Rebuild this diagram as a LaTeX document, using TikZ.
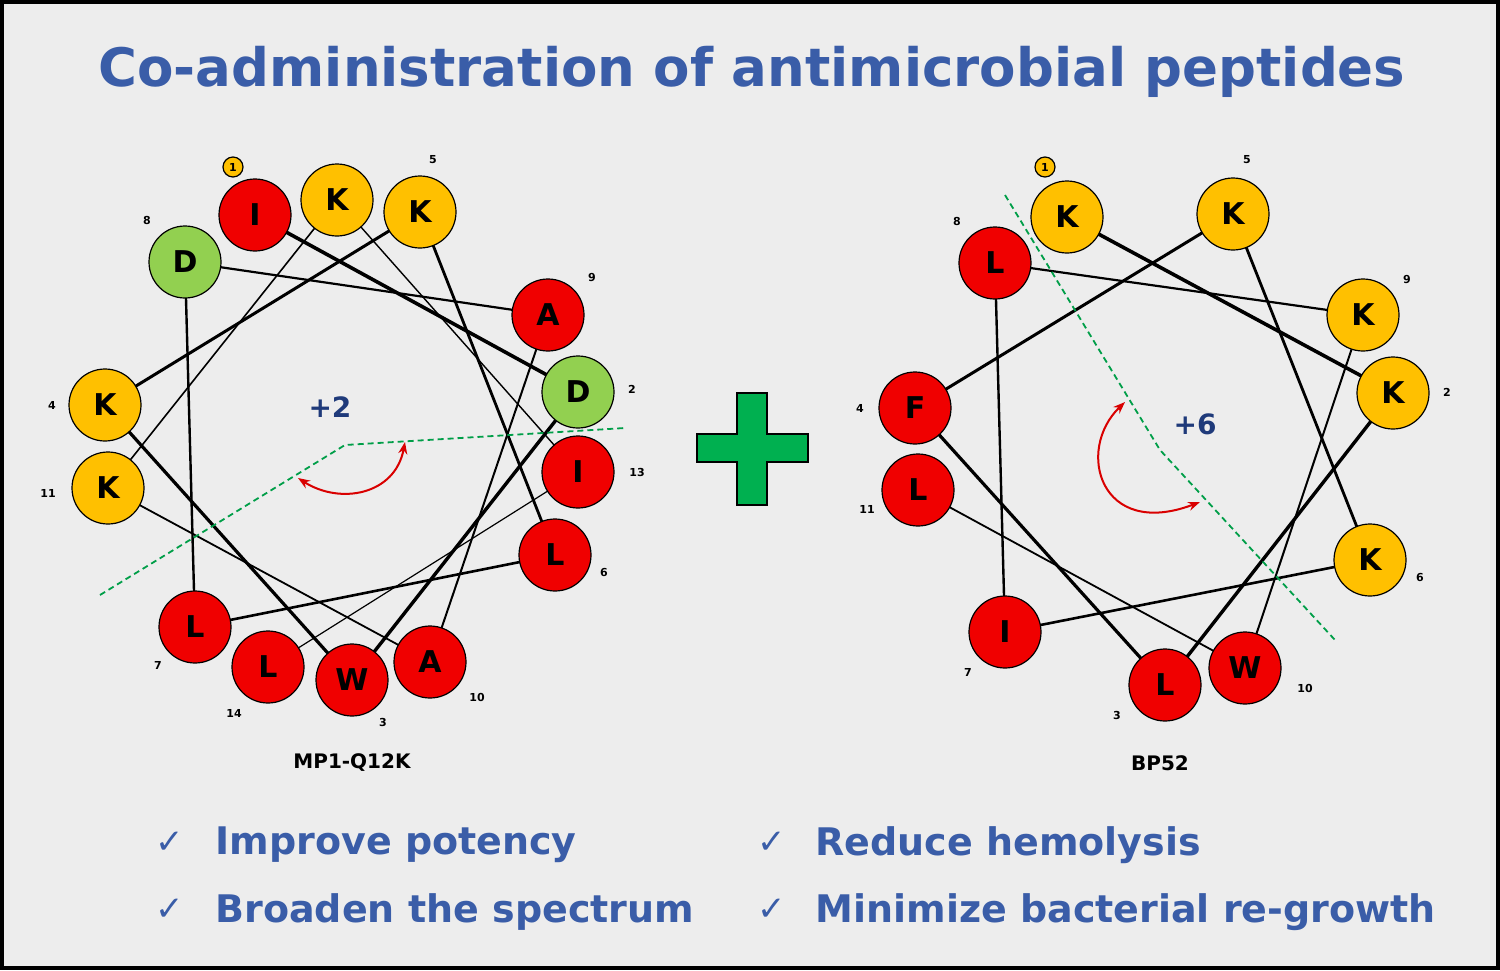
\documentclass[tikz,border=0pt]{standalone}
\usepackage{fontspec}
\setmainfont{DejaVu Sans}
\usetikzlibrary{arrows.meta}
\definecolor{tblue}{HTML}{3A5DA8}
\definecolor{rred}{HTML}{F00000}
\definecolor{yel}{HTML}{FFC000}
\definecolor{grn}{HTML}{92D050}
\definecolor{plusg}{HTML}{00B050}
\definecolor{nblue}{HTML}{1F3A7A}
\begin{document}
\begin{tikzpicture}[x=1pt,y=-1pt,
 res/.style={circle,draw=black,line width=1.2pt,minimum size=72pt,inner sep=0pt,font=\fontsize{30}{30}\selectfont\bfseries},
 R/.style={res,fill=rred},Y/.style={res,fill=yel},G/.style={res,fill=grn},
 num/.style={font=\fontsize{11}{11}\selectfont\bfseries},
 bond/.style={draw=black,line width=#1},
 gdash/.style={draw=plusg!90!black,line width=1.8pt,dash pattern=on 6pt off 4pt},
 rarc/.style={draw=red!85!black,line width=2pt,{Stealth[length=12pt]}-{Stealth[length=12pt]}},
 txt/.style={text=tblue,font=\fontsize{38}{38}\selectfont\bfseries,anchor=west},
 chk/.style={text=tblue,font=\fontsize{34}{34}\selectfont}]
\fill[black] (0,0) rectangle (1500,970);
\fill[gray!14] (4,4) rectangle (1496,966);
\node[text=tblue,font=\fontsize{53}{53}\selectfont\bfseries] (title) at (752,72) {Co-administration of antimicrobial peptides};
\coordinate (a12) at (337,200); \coordinate (a5) at (420,212); \coordinate (a1) at (255,215);
\coordinate (a8) at (185,262); \coordinate (a9) at (548,315); \coordinate (a2) at (578,392);
\coordinate (a4) at (105,405); \coordinate (a13) at (578,472); \coordinate (a11) at (108,488);
\coordinate (a6) at (555,555); \coordinate (a7) at (195,627); \coordinate (a14) at (268,667);
\coordinate (a10) at (430,662); \coordinate (a3) at (352,680);
\coordinate (b1) at (1067,217); \coordinate (b5) at (1233,214); \coordinate (b8) at (995,263);
\coordinate (b9) at (1363,315); \coordinate (b2) at (1393,393); \coordinate (b4) at (915,408);
\coordinate (b11) at (918,490); \coordinate (b6) at (1370,560); \coordinate (b7) at (1005,632);
\coordinate (b3) at (1165,685); \coordinate (b10) at (1245,668);
\draw[black,line width=1.2pt,fill=yel] (233,167) circle (10pt);
\node[num] (n1) at (233,167) {1};
\node[num] at (433,160) {5};
\node[num] at (147,220) {8};
\node[num] at (592,277) {9};
\node[num] at (632,389) {2};
\node[num] at (52,405) {4};
\node[num] at (637,472) {13};
\node[num] at (48,493) {11};
\node[num] at (604,572) {6};
\node[num] at (158,665) {7};
\node[num] at (234,713) {14};
\node[num] at (383,722) {3};
\node[num] at (477,697) {10};
\draw[black,line width=1.2pt,fill=yel] (1045,167) circle (10pt);
\node[num] at (1045,167) {1};
\node[num] at (1247,160) {5};
\node[num] at (957,221) {8};
\node[num] at (1407,279) {9};
\node[num] at (1447,392) {2};
\node[num] at (860,408) {4};
\node[num] at (867,509) {11};
\node[num] at (1420,577) {6};
\node[num] at (968,672) {7};
\node[num] at (1117,715) {3};
\node[num] at (1305,688) {10};
\draw[bond=3.6pt] (a1)--(a2);
\draw[bond=3.4pt] (a2)--(a3);
\draw[bond=3.2pt] (a3)--(a4);
\draw[bond=3pt] (a4)--(a5);
\draw[bond=2.8pt] (a5)--(a6);
\draw[bond=2.6pt] (a6)--(a7);
\draw[bond=2.4pt] (a7)--(a8);
\draw[bond=2.2pt] (a8)--(a9);
\draw[bond=2pt] (a9)--(a10);
\draw[bond=1.8pt] (a10)--(a11);
\draw[bond=1.6pt] (a11)--(a12);
\draw[bond=1.4pt] (a12)--(a13);
\draw[bond=1.2pt] (a13)--(a14);
\draw[bond=3.6pt] (b1)--(b2);
\draw[bond=3.4pt] (b2)--(b3);
\draw[bond=3.2pt] (b3)--(b4);
\draw[bond=3pt] (b4)--(b5);
\draw[bond=2.8pt] (b5)--(b6);
\draw[bond=2.6pt] (b6)--(b7);
\draw[bond=2.4pt] (b7)--(b8);
\draw[bond=2.2pt] (b8)--(b9);
\draw[bond=2pt] (b9)--(b10);
\draw[bond=1.8pt] (b10)--(b11);
\foreach \n/\s/\t in {a12/Y/K,a5/Y/K,a1/R/I,a8/G/D,a9/R/A,a2/G/D,a4/Y/K,a13/R/I,a11/Y/K,a6/R/L,a7/R/L,a14/R/L,a10/R/A,a3/R/W,
 b1/Y/K,b5/Y/K,b8/R/L,b9/Y/K,b2/Y/K,b4/R/F,b11/R/L,b6/Y/K,b7/R/I,b3/R/L,b10/R/W}
  \node[\s] (n\n) at (\n) {\t};
\coordinate (d1) at (100,595); \coordinate (d2) at (345,445); \coordinate (d3) at (625,428);
\draw[gdash] (d1)--(d2)--(d3);
\coordinate (e1) at (1005,195); \coordinate (e2) at (1160,450); \coordinate (e3) at (1335,640);
\draw[gdash] (e1)--(e2)--(e3);
\coordinate (r1) at (405,442); \coordinate (r2) at (298,478);
\draw[rarc] (r2) .. controls (340,505) and (395,495) .. (r1);
\coordinate (s1) at (1125,402); \coordinate (s2) at (1200,502);
\draw[rarc] (s1) .. controls (1075,450) and (1100,540) .. (s2);
\node[text=nblue,font=\fontsize{28}{28}\selectfont\bfseries] (c1) at (330,407) {+2};
\node[text=nblue,font=\fontsize{28}{28}\selectfont\bfseries] (c2) at (1195,424) {+6};
\draw[black,line width=1.5pt,fill=plusg] (737,393)--(767,393)--(767,434)--(808,434)--(808,462)--(767,462)--(767,505)--(737,505)--(737,462)--(697,462)--(697,434)--(737,434)--cycle;
\node[font=\fontsize{20}{20}\selectfont\bfseries] (l1) at (352,763) {MP1-Q12K};
\node[font=\fontsize{20}{20}\selectfont\bfseries] (l2) at (1160,763) {BP52};
\node[chk] at (170,843) {✓};
\node[chk] at (170,910) {✓};
\node[chk] at (772,843) {✓};
\node[chk] at (772,910) {✓};
\node[txt] at (212,845) {Improve potency};
\node[txt] at (212,912) {Broaden the spectrum};
\node[txt] at (812,845) {Reduce hemolysis};
\node[txt] at (812,912) {Minimize bacterial re-growth};
\end{tikzpicture}
\end{document}
